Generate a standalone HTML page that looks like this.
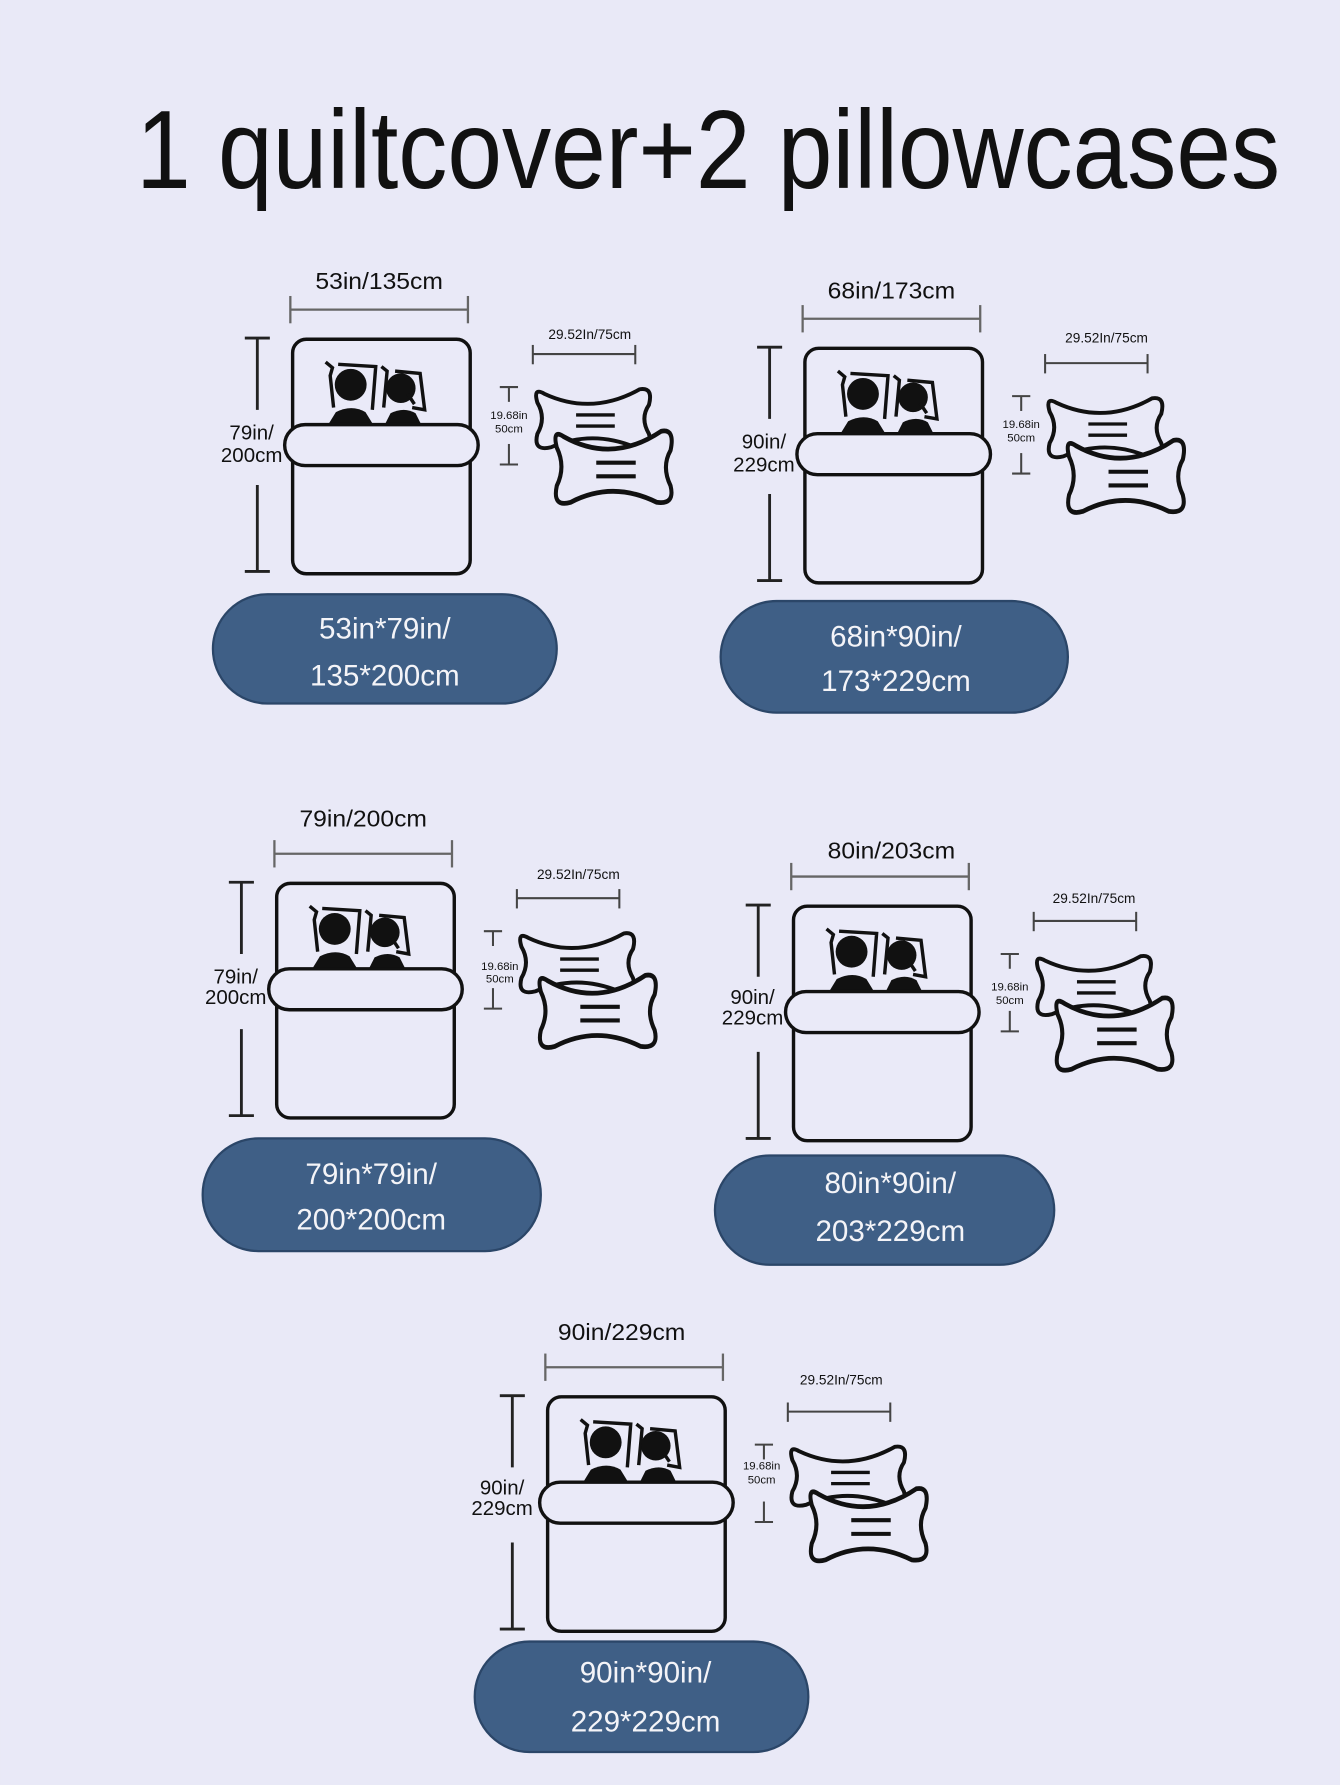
<!DOCTYPE html>
<html><head><meta charset="utf-8"><style>
html,body{margin:0;padding:0;background:#e9e9f7;}
svg{display:block}
text{font-family:"Liberation Sans",sans-serif;}
</style></head><body>
<svg width="1340" height="1785" viewBox="0 0 1177 1568" xmlns="http://www.w3.org/2000/svg">
<rect width="1177" height="1568" fill="#e9e9f7"/>
<defs>
<g id="pil">
<path d="M8,8 Q50,28 92,4 Q104,2 100,18 Q92,30 100,44 Q104,58 88,56 Q50,40 14,56 Q-2,60 2,44 Q10,30 2,16 Q-2,2 8,8 Z" fill="#e9e9f7" stroke="#111" stroke-width="3.5" stroke-linejoin="round"/>
<line x1="36" y1="27" x2="70" y2="27" stroke="#111" stroke-width="3"/>
<line x1="36" y1="37" x2="70" y2="37" stroke="#111" stroke-width="3"/>
</g>
<g id="panel" fill="none" stroke="#111">
<line x1="-2" y1="-26" x2="154" y2="-26" stroke="#666" stroke-width="2"/>
<line x1="-2" y1="-38" x2="-2" y2="-14" stroke="#666" stroke-width="2"/>
<line x1="154" y1="-38" x2="154" y2="-14" stroke="#666" stroke-width="2"/>
<line x1="-31" y1="-1" x2="-31" y2="62" stroke="#222" stroke-width="2.5"/>
<line x1="-31" y1="128" x2="-31" y2="204" stroke="#222" stroke-width="2.5"/>
<line x1="-42" y1="-1" x2="-20" y2="-1" stroke="#222" stroke-width="2.5"/>
<line x1="-42" y1="204" x2="-20" y2="204" stroke="#222" stroke-width="2.5"/>
<rect x="0" y="0" width="156" height="206" rx="12" fill="#eaeaf8" stroke-width="3"/>
<path d="M29,20 L35,25 L33,32 L36,60 M70,62 L73,24 L40,22" stroke-width="3"/>
<path d="M78,24 L83,28 L80,60 M90,28 L112,30 L116,62 L105,60" stroke-width="3"/>
<circle cx="51" cy="40" r="14" fill="#111" stroke="none"/>
<circle cx="95" cy="43" r="13" fill="#111" stroke="none"/>
<path d="M101,48 L107,57" stroke-width="3"/>
<path d="M30,77 L38,64 Q52,57 64,64 L72,77 Z" fill="#111" stroke="none"/>
<path d="M80,77 L86,65 Q98,59 108,65 L114,77 Z" fill="#111" stroke="none"/>
<rect x="-7" y="75" width="170" height="36" rx="18" fill="#eaeaf8" stroke-width="3"/>
<line x1="211" y1="13" x2="301" y2="13" stroke="#444" stroke-width="1.8"/>
<line x1="211" y1="5" x2="211" y2="22" stroke="#444" stroke-width="1.8"/>
<line x1="301" y1="5" x2="301" y2="22" stroke="#444" stroke-width="1.8"/>
<line x1="190" y1="42" x2="190" y2="55" stroke="#444" stroke-width="1.8"/>
<line x1="190" y1="92" x2="190" y2="110" stroke="#444" stroke-width="1.8"/>
<line x1="182" y1="42" x2="198" y2="42" stroke="#444" stroke-width="1.8"/>
<line x1="182" y1="110" x2="198" y2="110" stroke="#444" stroke-width="1.8"/>
<use href="#pil" transform="translate(213,40) scale(1,0.98)"/>
<use href="#pil" transform="translate(230,76) scale(1.02,1.2)"/>
</g>
</defs>

<text x="622" y="165" font-size="98" text-anchor="middle" textLength="1005" lengthAdjust="spacingAndGlyphs" fill="#111">1 quiltcover+2 pillowcases</text>

<g font-size="20" fill="#111">
<g transform="translate(257,298)">
<use href="#panel"/>
<text x="76" y="-44" text-anchor="middle" font-size="20" textLength="112" lengthAdjust="spacingAndGlyphs">53in/135cm</text>
<text x="-36" y="88" text-anchor="middle" font-size="18">79in/</text>
<text x="-36" y="108" text-anchor="middle" font-size="18">200cm</text>
<text x="261" y="0" text-anchor="middle" font-size="12">29.52In/75cm</text>
<text x="190" y="70" text-anchor="middle" font-size="10">19.68in</text>
<text x="190" y="82" text-anchor="middle" font-size="10">50cm</text>
</g>
<rect x="187" y="522" width="302" height="96" rx="48" fill="#3f5f86" stroke="#2b4668" stroke-width="2"/>
<text x="338" y="561" text-anchor="middle" font-size="26" fill="#f4f4f8">53in*79in/</text>
<text x="338" y="602" text-anchor="middle" font-size="26" fill="#f4f4f8">135*200cm</text>

<g transform="translate(707,306)">
<use href="#panel"/>
<text x="76" y="-44" text-anchor="middle" font-size="20" textLength="112" lengthAdjust="spacingAndGlyphs">68in/173cm</text>
<text x="-36" y="88" text-anchor="middle" font-size="18">90in/</text>
<text x="-36" y="108" text-anchor="middle" font-size="18">229cm</text>
<text x="265" y="-5" text-anchor="middle" font-size="12">29.52In/75cm</text>
<text x="190" y="70" text-anchor="middle" font-size="10">19.68in</text>
<text x="190" y="82" text-anchor="middle" font-size="10">50cm</text>
</g>
<rect x="633" y="528" width="305" height="98" rx="49" fill="#3f5f86" stroke="#2b4668" stroke-width="2"/>
<text x="787" y="568" text-anchor="middle" font-size="26" fill="#f4f4f8">68in*90in/</text>
<text x="787" y="607" text-anchor="middle" font-size="26" fill="#f4f4f8">173*229cm</text>

<g transform="translate(243,776)">
<use href="#panel"/>
<text x="76" y="-50" text-anchor="middle" font-size="20" textLength="112" lengthAdjust="spacingAndGlyphs">79in/200cm</text>
<text x="-36" y="88" text-anchor="middle" font-size="18">79in/</text>
<text x="-36" y="106" text-anchor="middle" font-size="18">200cm</text>
<text x="265" y="-4" text-anchor="middle" font-size="12">29.52In/75cm</text>
<text x="196" y="76" text-anchor="middle" font-size="10">19.68in</text>
<text x="196" y="87" text-anchor="middle" font-size="10">50cm</text>
</g>
<rect x="178" y="1000" width="297" height="99" rx="49" fill="#3f5f86" stroke="#2b4668" stroke-width="2"/>
<text x="326" y="1040" text-anchor="middle" font-size="26" fill="#f4f4f8">79in*79in/</text>
<text x="326" y="1080" text-anchor="middle" font-size="26" fill="#f4f4f8">200*200cm</text>

<g transform="translate(697,796)">
<use href="#panel"/>
<text x="86" y="-42" text-anchor="middle" font-size="20" textLength="112" lengthAdjust="spacingAndGlyphs">80in/203cm</text>
<text x="-36" y="86" text-anchor="middle" font-size="18">90in/</text>
<text x="-36" y="104" text-anchor="middle" font-size="18">229cm</text>
<text x="264" y="-3" text-anchor="middle" font-size="12">29.52In/75cm</text>
<text x="190" y="74" text-anchor="middle" font-size="10">19.68in</text>
<text x="190" y="86" text-anchor="middle" font-size="10">50cm</text>
</g>
<rect x="628" y="1015" width="298" height="96" rx="48" fill="#3f5f86" stroke="#2b4668" stroke-width="2"/>
<text x="782" y="1048" text-anchor="middle" font-size="26" fill="#f4f4f8">80in*90in/</text>
<text x="782" y="1090" text-anchor="middle" font-size="26" fill="#f4f4f8">203*229cm</text>

<g transform="translate(481,1227)">
<use href="#panel"/>
<text x="65" y="-50" text-anchor="middle" font-size="20" textLength="112" lengthAdjust="spacingAndGlyphs">90in/229cm</text>
<text x="-40" y="86" text-anchor="middle" font-size="18">90in/</text>
<text x="-40" y="104" text-anchor="middle" font-size="18">229cm</text>
<text x="258" y="-11" text-anchor="middle" font-size="12">29.52In/75cm</text>
<text x="188" y="64" text-anchor="middle" font-size="10">19.68in</text>
<text x="188" y="76" text-anchor="middle" font-size="10">50cm</text>
</g>
<rect x="417" y="1442" width="293" height="97" rx="48" fill="#3f5f86" stroke="#2b4668" stroke-width="2"/>
<text x="567" y="1478" text-anchor="middle" font-size="26" fill="#f4f4f8">90in*90in/</text>
<text x="567" y="1521" text-anchor="middle" font-size="26" fill="#f4f4f8">229*229cm</text>
</g>
</svg>
</body></html>
